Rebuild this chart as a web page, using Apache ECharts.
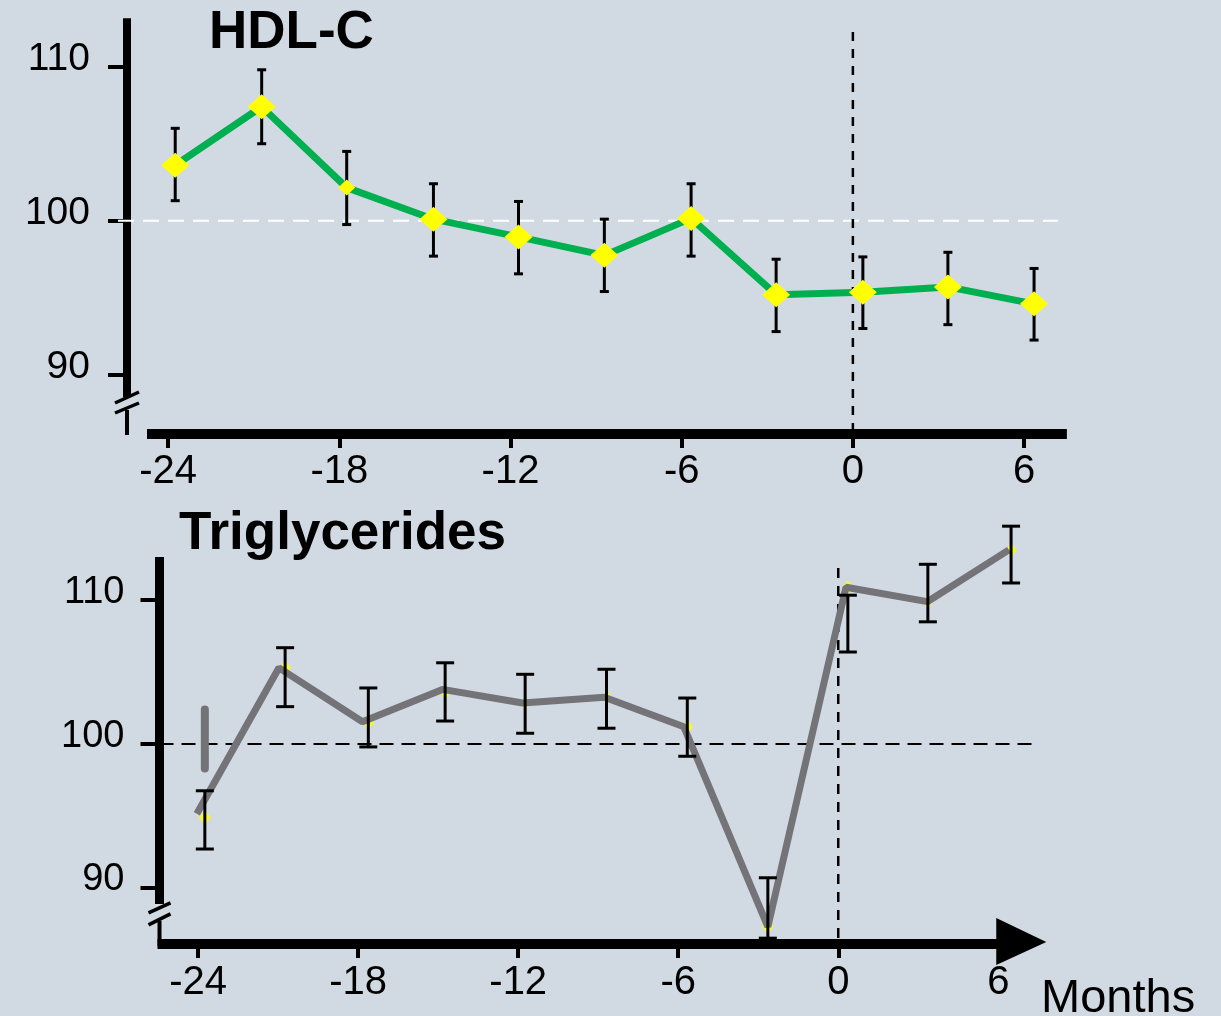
<!DOCTYPE html>
<html><head><meta charset="utf-8">
<script src="https://cdn.jsdelivr.net/npm/echarts@6/dist/echarts.min.js"></script>
<style>html,body{margin:0;padding:0;background:#d1dae2}#c{width:1221px;height:1016px}</style>
</head><body><div id="c"></div>
<script>
// ---------- data ----------
const monthTicks = [-24, -18, -12, -6, 0, 6];
const valueTicks = [90, 100, 110];

const hdlMonths = [-23.75, -20.72, -17.74, -14.70, -11.72, -8.71, -5.67, -2.69, 0.35, 3.33, 6.35];
const hdlValues = [103.6, 107.4, 102.15, 100.1, 98.95, 97.75, 100.15, 95.2, 95.35, 95.7, 94.6];
const hdlLow    = [101.3, 105.0, 99.75, 97.7, 96.55, 95.4, 97.7, 92.8, 93.0, 93.25, 92.25];
const hdlHigh   = [106.0, 109.8, 104.5, 102.4, 101.25, 100.1, 102.4, 97.5, 97.65, 97.95, 96.9];

const tgMonths     = [-23.75, -20.74, -17.62, -14.74, -11.74, -8.69, -5.66, -2.64, 0.36, 3.36, 6.48];
const tgValues     = [94.9, 105.3, 101.5, 103.6, 102.85, 103.25, 101.2, 87.3, 110.9, 109.9, 113.5];
const tgLineMonths = [-24.05, -20.97, -17.84, -14.84, -11.84, -8.77, -5.79, -2.64, 0.29, 3.34, 6.40];
const tgLineValues = [95.15, 105.3, 101.55, 103.8, 102.85, 103.25, 101.2, 87.3, 110.9, 109.9, 113.5];
const tgLow        = [92.7, 102.6, 99.8, 101.6, 100.75, 101.1, 99.15, 86.5, 106.4, 108.5, 111.2];
const tgHigh       = [96.75, 106.7, 103.9, 105.65, 104.85, 105.2, 103.2, 90.7, 110.35, 112.5, 115.15];
const tgStrayMonths = [-23.75, -23.75];
const tgStrayValues = [102.4, 98.3];

const referenceValue = 100;
const baselineMonth = 0;
const refLineTop = 112.25;

// ---------- layout ----------
const BG = '#d1dae2';
const FONT = 'Liberation Sans, Arial, sans-serif';
const cfgTop = {xMin: -25.44, xMax: 7.5, yMin: 86.15, yMax: 113.15, hEnd: 7.19};
const cfgBot = {xMin: -25.45, xMax: 7.8, yMin: 86.1, yMax: 113.0, hEnd: 7.33};

const zip = (a, b) => a.map((v, i) => [v, b[i]]);
const zip3 = (a, b, c) => a.map((v, i) => [v, b[i], c[i]]);

function errRender(capW, lw) {
  return function (params, api) {
    const x = api.value(0), lo = api.value(1), hi = api.value(2);
    const a = api.coord([x, hi]), b = api.coord([x, lo]);
    const style = {stroke: '#000', lineWidth: lw};
    return {type: 'group', children: [
      {type: 'line', shape: {x1: a[0], y1: a[1], x2: b[0], y2: b[1]}, style},
      {type: 'line', shape: {x1: a[0] - capW / 2, y1: a[1], x2: a[0] + capW / 2, y2: a[1]}, style},
      {type: 'line', shape: {x1: b[0] - capW / 2, y1: b[1], x2: b[0] + capW / 2, y2: b[1]}, style}
    ]};
  };
}

function ln(x1, y1, x2, y2, style) { return {type: 'line', shape: {x1, y1, x2, y2}, style}; }

function topFrame(params, api) {
  const c = cfgTop;
  const O = api.coord([c.xMin, c.yMin]);
  const T = api.coord([c.xMin, c.yMax]);
  const R = api.coord([c.xMax, c.yMin]);
  const h0 = api.coord([c.xMin, referenceValue]);
  const h1 = api.coord([c.hEnd, referenceValue]);
  const v0 = api.coord([baselineMonth, refLineTop]);
  const v1 = api.coord([baselineMonth, c.yMin]);
  const k = {stroke: '#000', lineWidth: 8};
  const s = {stroke: '#000', lineWidth: 3.5};
  return {type: 'group', children: [
    ln(O[0], T[1], O[0], O[1] - 37, k),
    ln(O[0], O[1] - 24, O[0], O[1] + 1, {stroke: '#000', lineWidth: 4}),
    ln(O[0] - 12, O[1] - 31, O[0] + 12, O[1] - 42, s),
    ln(O[0] - 12, O[1] - 21, O[0] + 12, O[1] - 31, s),
    ln(O[0] + 20, O[1], R[0], O[1], {stroke: '#000', lineWidth: 10}),
    ln(h0[0] - 9, h0[1], h1[0], h1[1], {stroke: '#ffffff', lineWidth: 2, lineDash: [16, 9]}),
    ln(v0[0], v0[1], v1[0], v1[1], {stroke: '#000', lineWidth: 2.5, lineDash: [9, 8]})
  ]};
}

function botFrame(params, api) {
  const c = cfgBot;
  const O = api.coord([c.xMin, c.yMin]);
  const T = api.coord([c.xMin, c.yMax]);
  const R = api.coord([c.xMax, c.yMin]);
  const h0 = api.coord([c.xMin, referenceValue]);
  const h1 = api.coord([c.hEnd, referenceValue]);
  const v0 = api.coord([baselineMonth, refLineTop]);
  const v1 = api.coord([baselineMonth, c.yMin]);
  const k = {stroke: '#000', lineWidth: 9};
  const s = {stroke: '#000', lineWidth: 3.5};
  return {type: 'group', children: [
    ln(v0[0], v0[1], v1[0], v1[1], {stroke: '#000', lineWidth: 2.5, lineDash: [10, 8]}),
    ln(h0[0], h0[1], h1[0], h1[1], {stroke: '#000', lineWidth: 2, lineDash: [14, 8]}),
    ln(O[0], T[1], O[0], O[1] - 40, k),
    ln(O[0], O[1] - 23, O[0], O[1] + 2, {stroke: '#000', lineWidth: 4}),
    ln(O[0] - 11, O[1] - 31, O[0] + 11, O[1] - 41, s),
    ln(O[0] - 11, O[1] - 19, O[0] + 11, O[1] - 30, s),
    ln(O[0] - 2, O[1], R[0] - 45, O[1], {stroke: '#000', lineWidth: 10}),
    {type: 'polygon', shape: {points: [[R[0], O[1] - 2], [R[0] - 50, O[1] - 26], [R[0] - 50, O[1] + 21]]}, style: {fill: '#000'}}
  ]};
}

function xAxisCfg(gi, c, margin) {
  return {
    type: 'value', gridIndex: gi, min: c.xMin, max: c.xMax,
    axisLine: {show: false, onZero: false}, splitLine: {show: false},
    axisTick: {show: true, customValues: monthTicks, length: 14, lineStyle: {color: '#000', width: 4}},
    axisLabel: {customValues: monthTicks, fontSize: 40, color: '#000', fontFamily: FONT, margin: margin}
  };
}
function yAxisCfg(gi, c, tickLen, margin, fs, lh) {
  return {
    type: 'value', gridIndex: gi, min: c.yMin, max: c.yMax,
    axisLine: {show: false, onZero: false}, splitLine: {show: false},
    axisTick: {show: true, customValues: valueTicks, length: tickLen, lineStyle: {color: '#000', width: 4}},
    axisLabel: {customValues: valueTicks, fontSize: fs, color: '#000', fontFamily: FONT, margin: margin,
      verticalAlign: 'bottom', lineHeight: lh}
  };
}

const chart = echarts.init(document.getElementById('c'), null, {renderer: 'canvas'});
chart.setOption({
  animation: false,
  backgroundColor: BG,
  title: [
    {text: 'HDL-C', left: 209, top: 7, padding: 0, textStyle: {fontSize: 53, fontWeight: 'bold', color: '#000', fontFamily: FONT}},
    {text: 'Triglycerides', left: 179, top: 508, padding: 0, textStyle: {fontSize: 53, fontWeight: 'bold', color: '#000', fontFamily: FONT}},
    {text: 'Months', left: 1041, top: 976, padding: 0, textStyle: {fontSize: 47, fontWeight: 'normal', color: '#000', fontFamily: FONT}}
  ],
  grid: [
    {left: 127, top: 18.2, width: (cfgTop.xMax - cfgTop.xMin) * 28.533, height: (cfgTop.yMax - cfgTop.yMin) * 15.4},
    {left: 159.5, top: 557.1, width: (cfgBot.xMax - cfgBot.xMin) * 26.67, height: (cfgBot.yMax - cfgBot.yMin) * 14.38}
  ],
  xAxis: [xAxisCfg(0, cfgTop, 18), xAxisCfg(1, cfgBot, 19)],
  yAxis: [yAxisCfg(0, cfgTop, 19, 37, 39, 15), yAxisCfg(1, cfgBot, 19, 35, 38, 16)],
  series: [
    {type: 'custom', xAxisIndex: 0, yAxisIndex: 0, data: [[0]], renderItem: topFrame, clip: false, silent: true, z: 1},
    {type: 'custom', xAxisIndex: 0, yAxisIndex: 0, data: zip3(hdlMonths, hdlLow, hdlHigh), renderItem: errRender(9, 3), clip: false, z: 2},
    {type: 'line', name: 'HDL-C', xAxisIndex: 0, yAxisIndex: 0, data: zip(hdlMonths, hdlValues), z: 3,
      lineStyle: {color: '#00b050', width: 7}, itemStyle: {color: '#ffff00', borderWidth: 0},
      symbol: 'diamond', symbolSize: (v, p) => p.dataIndex === 2 ? [17, 16] : [28, 25], showAllSymbol: true, clip: false},

    {type: 'custom', xAxisIndex: 1, yAxisIndex: 1, data: [[0]], renderItem: botFrame, clip: false, silent: true, z: 1},
    {type: 'scatter', xAxisIndex: 1, yAxisIndex: 1, data: zip(tgMonths, tgValues), symbol: 'diamond', symbolSize: [12, 14],
      itemStyle: {color: '#ffff00'}, z: 2, clip: false},
    {type: 'line', xAxisIndex: 1, yAxisIndex: 1, data: zip(tgStrayMonths, tgStrayValues), symbol: 'none',
      lineStyle: {color: '#747378', width: 8, cap: 'round'}, z: 3, clip: false},
    {type: 'line', name: 'Triglycerides', xAxisIndex: 1, yAxisIndex: 1, data: zip(tgLineMonths, tgLineValues), symbol: 'none',
      lineStyle: {color: '#747378', width: 7}, z: 3, clip: false},
    {type: 'custom', xAxisIndex: 1, yAxisIndex: 1, data: zip3(tgMonths, tgLow, tgHigh), renderItem: errRender(18, 3), clip: false, z: 4}
  ]
});
</script></body></html>
